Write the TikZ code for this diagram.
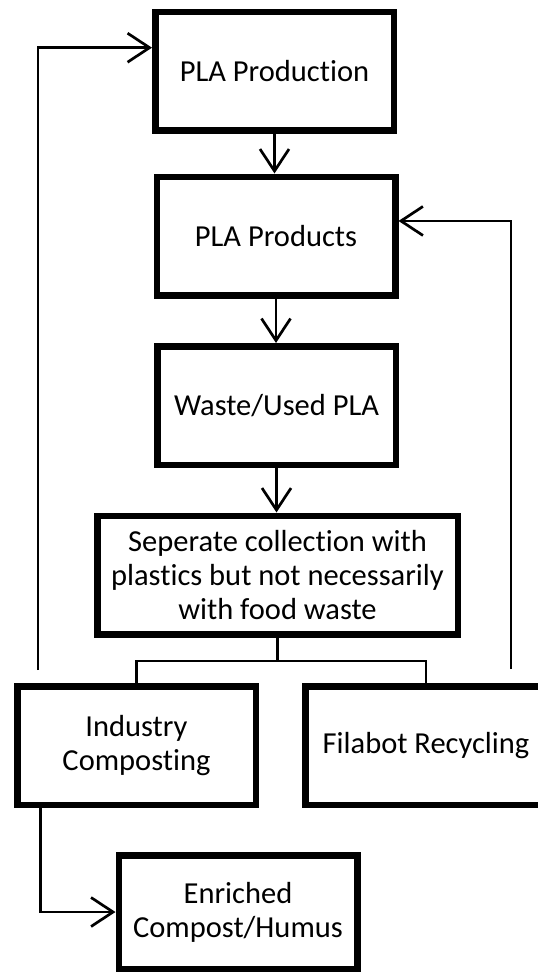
\documentclass[tikz,border=0pt]{standalone}
\usepackage{fontspec}
\setmainfont{Carlito}[Ligatures=NoCommon]
\usetikzlibrary{arrows.meta}

\tikzset{
  box/.style={draw, line width=3.25pt, minimum width=119.25pt, minimum height=59.25pt,
    inner sep=0pt, align=center, font=\fontsize{15.25}{17}\selectfont},
  flow/.style={line width=1.35pt, -{Straight Barb[length=11pt, width=14.5pt]}},
  link/.style={line width=1.3pt},
}

\begin{document}
\begin{tikzpicture}[x=0.5pt, y=-0.5pt]
    \useasboundingbox (0,0) rectangle (537,974);

    % Nodes
    \node[box] (prod) at (274.5,71.5) {PLA Production};
    \node[box] (prods) at (276,236) {PLA Products};
    \node[box] (waste) at (276.5,405.5) {Waste/Used PLA};
    \node[box, minimum width=180.25pt] (sep) at (277.5,575) {Seperate collection with\\plastics but not necessarily\\with food waste};
    \node[box] (ind) at (136.5,745.5) {Industry\\Composting};
    \node[box, minimum width=120.75pt] (fila) at (426,745.5) {Filabot Recycling};
    \node[box, minimum height=56.75pt] (enr) at (238,912) {Enriched\\Compost/Humus};

    \coordinate (fork) at (277.5,661);
    \coordinate (indtop) at (38,670);
    \coordinate (filatop) at (511,669);

    % Arrows
    \draw[flow] (prod.south) -- (prod.south |- prods.north);
    \draw[flow] (prods.south) -- (prods.south |- waste.north);
    \draw[flow] (waste.south) -- (waste.south |- sep.north);
    \draw[link] (sep.south) -- (fork);
    \draw[link] (ind.north) |- (fork) -| (fila.north);
    \draw[flow] (indtop) |- (prod.169);
    \draw[flow] (filatop) |- (prods.7);
    \draw[flow] (ind.213) |- (enr.west);

\end{tikzpicture}
\end{document}
